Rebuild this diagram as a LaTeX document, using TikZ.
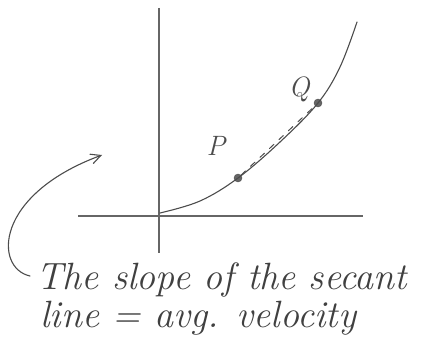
\documentclass[tikz,border=0pt]{standalone}
\usetikzlibrary{arrows.meta}
\begin{document}
\begin{tikzpicture}[x=1pt,y=-1pt,
  ink/.style={draw=black!70,line width=1.1pt,line cap=round,line join=round},
  axisline/.style={draw=black!60,line width=1.4pt},
  dotpt/.style={circle,fill=black!60,draw=black!70,inner sep=0pt,minimum size=8pt},
  ptlabel/.style={text=black!70,font=\fontsize{28}{30}\selectfont\itshape},
  hand/.style={text=black!75,font=\fontsize{38}{40}\selectfont\itshape,inner sep=0pt,anchor=base west}]
\useasboundingbox (0,0) rectangle (433,347);
% axes
\coordinate (ytop) at (159,8);
\coordinate (ybot) at (159,253);
\coordinate (xl) at (78,216);
\coordinate (xr) at (363,216);
\draw[axisline] (ytop) -- (ybot);
\draw[axisline] (xl) -- (xr);
% points
\node[dotpt] (P) at (238,178) {};
\node[dotpt] (Q) at (318,103) {};
% curve
\draw[ink] plot[smooth,tension=0.6] coordinates {(160,213) (200,201) (238,178) (280,142) (318,103) (340,67) (357,22)};
% secant
\draw[ink,dashed,dash pattern=on 6pt off 7pt,line width=1pt] (P) -- (Q);
% labels
\node[ptlabel] (Plab) at (216,146) {P};
\node[ptlabel] (Qlab) at (299,89) {Q};
% text
\node[hand] (t1) at (36,289) {The slope of the secant};
\node[hand] (t2) at (40,327) {line = avg. velocity};
% arrow
\coordinate (astart) at (30,276);
\coordinate (aend) at (102,155);
\draw[ink,-{Straight Barb[length=10pt,width=10pt]}] (astart) .. controls (-6,268) and (-6,195) .. (aend);
\end{tikzpicture}
\end{document}
